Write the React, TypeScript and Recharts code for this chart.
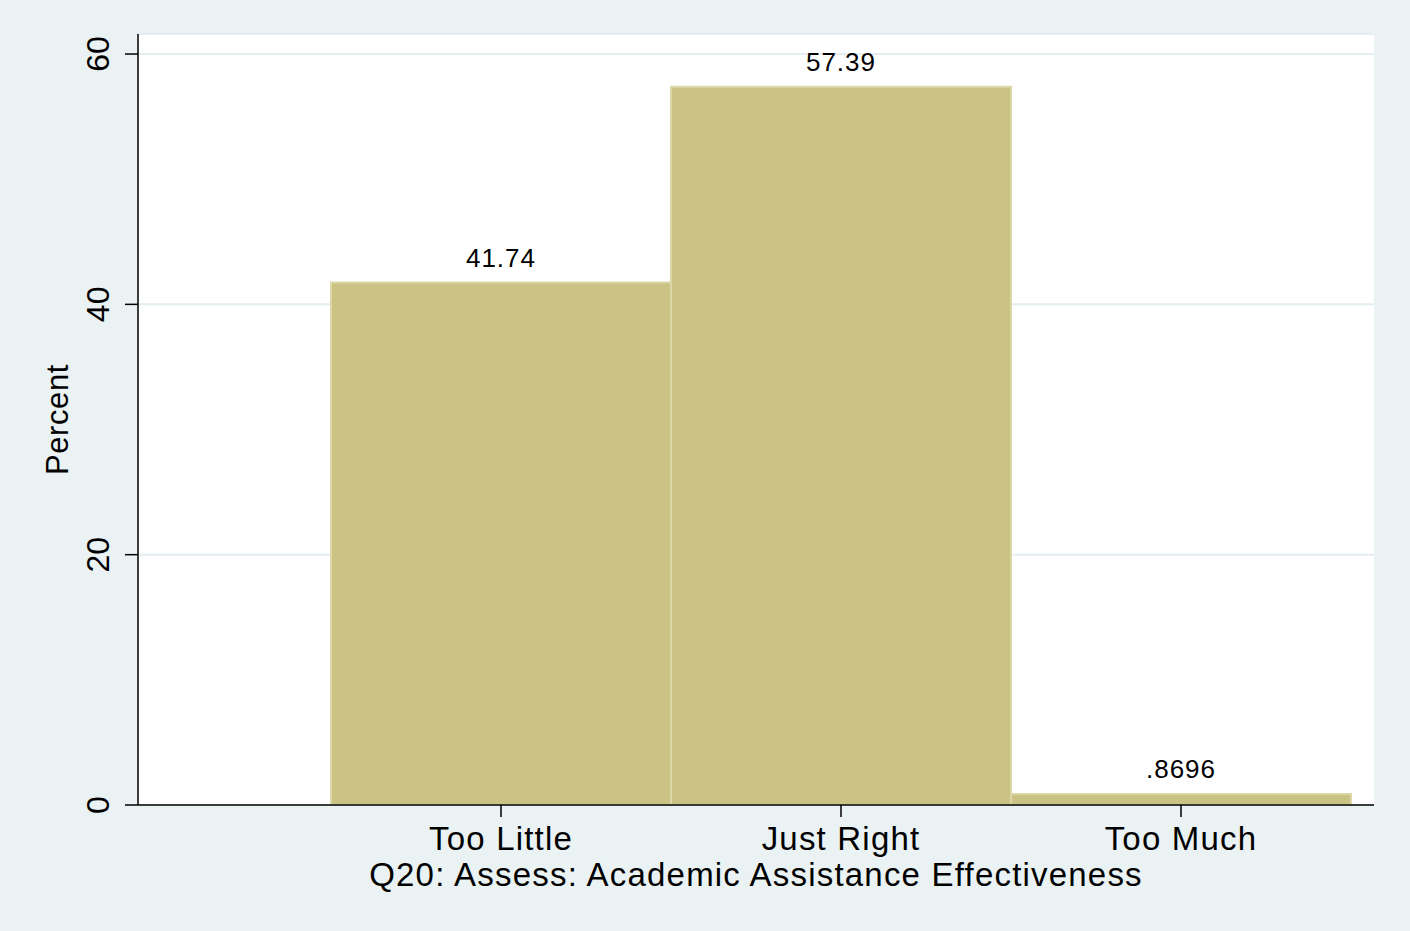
import React from 'react'
import { BarChart, Bar, XAxis, YAxis, CartesianGrid, LabelList, Label } from 'recharts'

const categories = ['Too Little', 'Just Right', 'Too Much']
const percents = [41.74, 57.39, 0.8696]
const yTicks = [0, 20, 40, 60]

const data = categories.map((name, i) => ({ name, pct: percents[i] }))

const FONT = '"Liberation Sans", Arial, Helvetica, sans-serif'
const BG = '#eaf2f3'

// stata style: drop the leading zero
const fmt = (v: any) => {
  const s = String(v)
  return s.startsWith('0.') ? s.slice(1) : s
}

function YTick({ x, y, payload }: any) {
  return (
    <text
      x={x}
      y={y}
      transform={`rotate(-90 ${x} ${y})`}
      textAnchor="middle"
      fontSize={32}
      fontFamily={FONT}
      fill="#000"
    >
      {payload.value}
    </text>
  )
}

function YTitle({ viewBox }: any) {
  const cx = viewBox.x + 68
  const cy = viewBox.y + viewBox.height / 2
  return (
    <text
      x={cx}
      y={cy}
      transform={`rotate(-90 ${cx} ${cy})`}
      textAnchor="middle"
      fontSize={31}
      letterSpacing={0.6}
      fontFamily={FONT}
      fill="#000"
    >
      Percent
    </text>
  )
}

const axisText = { fontSize: 33, letterSpacing: 1.2, fontFamily: FONT, fill: '#000' }

export default function App() {
  return (
    <div style={{ position: 'absolute', left: 0, top: 0, width: 1410, height: 931, background: BG }}>
      <BarChart
        width={1410}
        height={931}
        data={data}
        margin={{ top: 34, right: 36, bottom: 0, left: 0 }}
        barCategoryGap={0}
      >
        <CartesianGrid
          vertical={false}
          fill="#ffffff"
          stroke="#e4edf0"
          strokeWidth={2}
        />
        <XAxis
          dataKey="name"
          height={126}
          padding={{ left: 193, right: 23 }}
          tickSize={12}
          tickMargin={10}
          axisLine={{ stroke: '#000', strokeWidth: 1.5 }}
          tickLine={{ stroke: '#000', strokeWidth: 1.5 }}
          tick={axisText}
          interval={0}
        >
          <Label
            value="Q20: Assess: Academic Assistance Effectiveness"
            position="insideBottom"
            offset={45}
            style={axisText}
          />
        </XAxis>
        <YAxis
          width={138}
          domain={[0, 61.6]}
          ticks={yTicks}
          allowDataOverflow
          tickSize={13}
          tickMargin={16}
          axisLine={{ stroke: '#000', strokeWidth: 1.5 }}
          tickLine={{ stroke: '#000', strokeWidth: 1.5 }}
          tick={<YTick />}
          label={<YTitle />}
        />
        <Bar
          dataKey="pct"
          fill="#cbc384"
          stroke="#dcd7a6"
          strokeWidth={2}
          isAnimationActive={false}
        >
          <LabelList
            dataKey="pct"
            position="top"
            offset={16}
            formatter={fmt}
            style={{ fontSize: 26, letterSpacing: 1, fontFamily: FONT, fill: '#000' }}
          />
        </Bar>
      </BarChart>
    </div>
  )
}
